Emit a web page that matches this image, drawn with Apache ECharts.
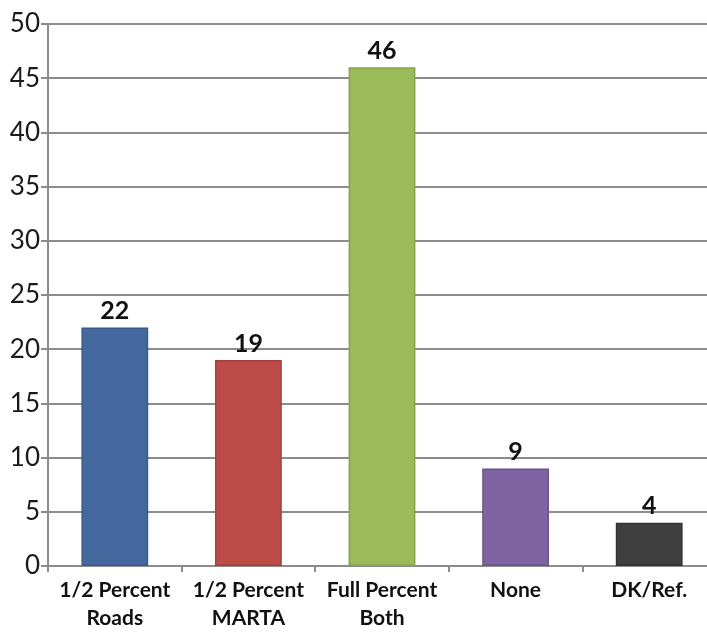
<!DOCTYPE html>
<html>
<head>
<meta charset="utf-8">
<script src="https://cdn.jsdelivr.net/npm/echarts@6/dist/echarts.min.js"></script>
<style>
  html, body { margin: 0; padding: 0; background: #fff; overflow: hidden; }
  #chart { width: 716px; height: 632px; }
</style>
</head>
<body>
<div id="chart"></div>
<script>
// Survey responses by funding option
const categories = ['1/2 Percent\nRoads', '1/2 Percent\nMARTA', 'Full Percent\nBoth', 'None', 'DK/Ref.'];
const values = [22, 19, 46, 9, 4];
const barColors = ['#44699E', '#BD4C49', '#9BBB59', '#7F62A0', '#3F3F3F'];
const barBorders = ['#3A5A88', '#A3413E', '#86A34B', '#6C5489', '#333333'];
const yTicks = [0, 5, 10, 15, 20, 25, 30, 35, 40, 45, 50];

const chart = echarts.init(document.getElementById('chart'), null, { renderer: 'canvas' });

chart.setOption({
  animation: false,
  backgroundColor: '#ffffff',
  grid: { left: 48, right: 0, top: 24, bottom: 62, containLabel: false },
  xAxis: {
    type: 'category',
    data: categories,
    axisLine: { show: true, lineStyle: { color: '#8c8c8c', width: 2 } },
    axisTick: { show: true, alignWithLabel: false, length: 6, lineStyle: { color: '#8c8c8c', width: 2 } },
    axisLabel: {
      color: '#111111',
      fontFamily: 'Lato',
      fontWeight: 'bold',
      fontSize: 21,
      lineHeight: 28,
      margin: 10,
      interval: 0
    },
    splitLine: { show: false }
  },
  yAxis: {
    type: 'value',
    min: yTicks[0],
    max: yTicks[yTicks.length - 1],
    interval: 5,
    axisLine: { show: true, lineStyle: { color: '#8c8c8c', width: 2 } },
    axisTick: { show: true, length: 7, lineStyle: { color: '#8c8c8c', width: 2 } },
    axisLabel: {
      color: '#1a1a1a',
      fontFamily: 'Lato',
      fontSize: 26,
      margin: 8
    },
    splitLine: { show: true, lineStyle: { color: '#8c8c8c', width: 2 } }
  },
  series: [{
    type: 'bar',
    barWidth: '50%',
    data: values.map((v, i) => ({
      value: v,
      itemStyle: { color: barColors[i], borderColor: barBorders[i], borderWidth: 1.5 }
    })),
    label: {
      show: true,
      position: 'top',
      distance: 4,
      color: '#111111',
      fontFamily: 'Lato',
      fontWeight: 'bold',
      fontSize: 25
    }
  }]
});
</script>
</body>
</html>
